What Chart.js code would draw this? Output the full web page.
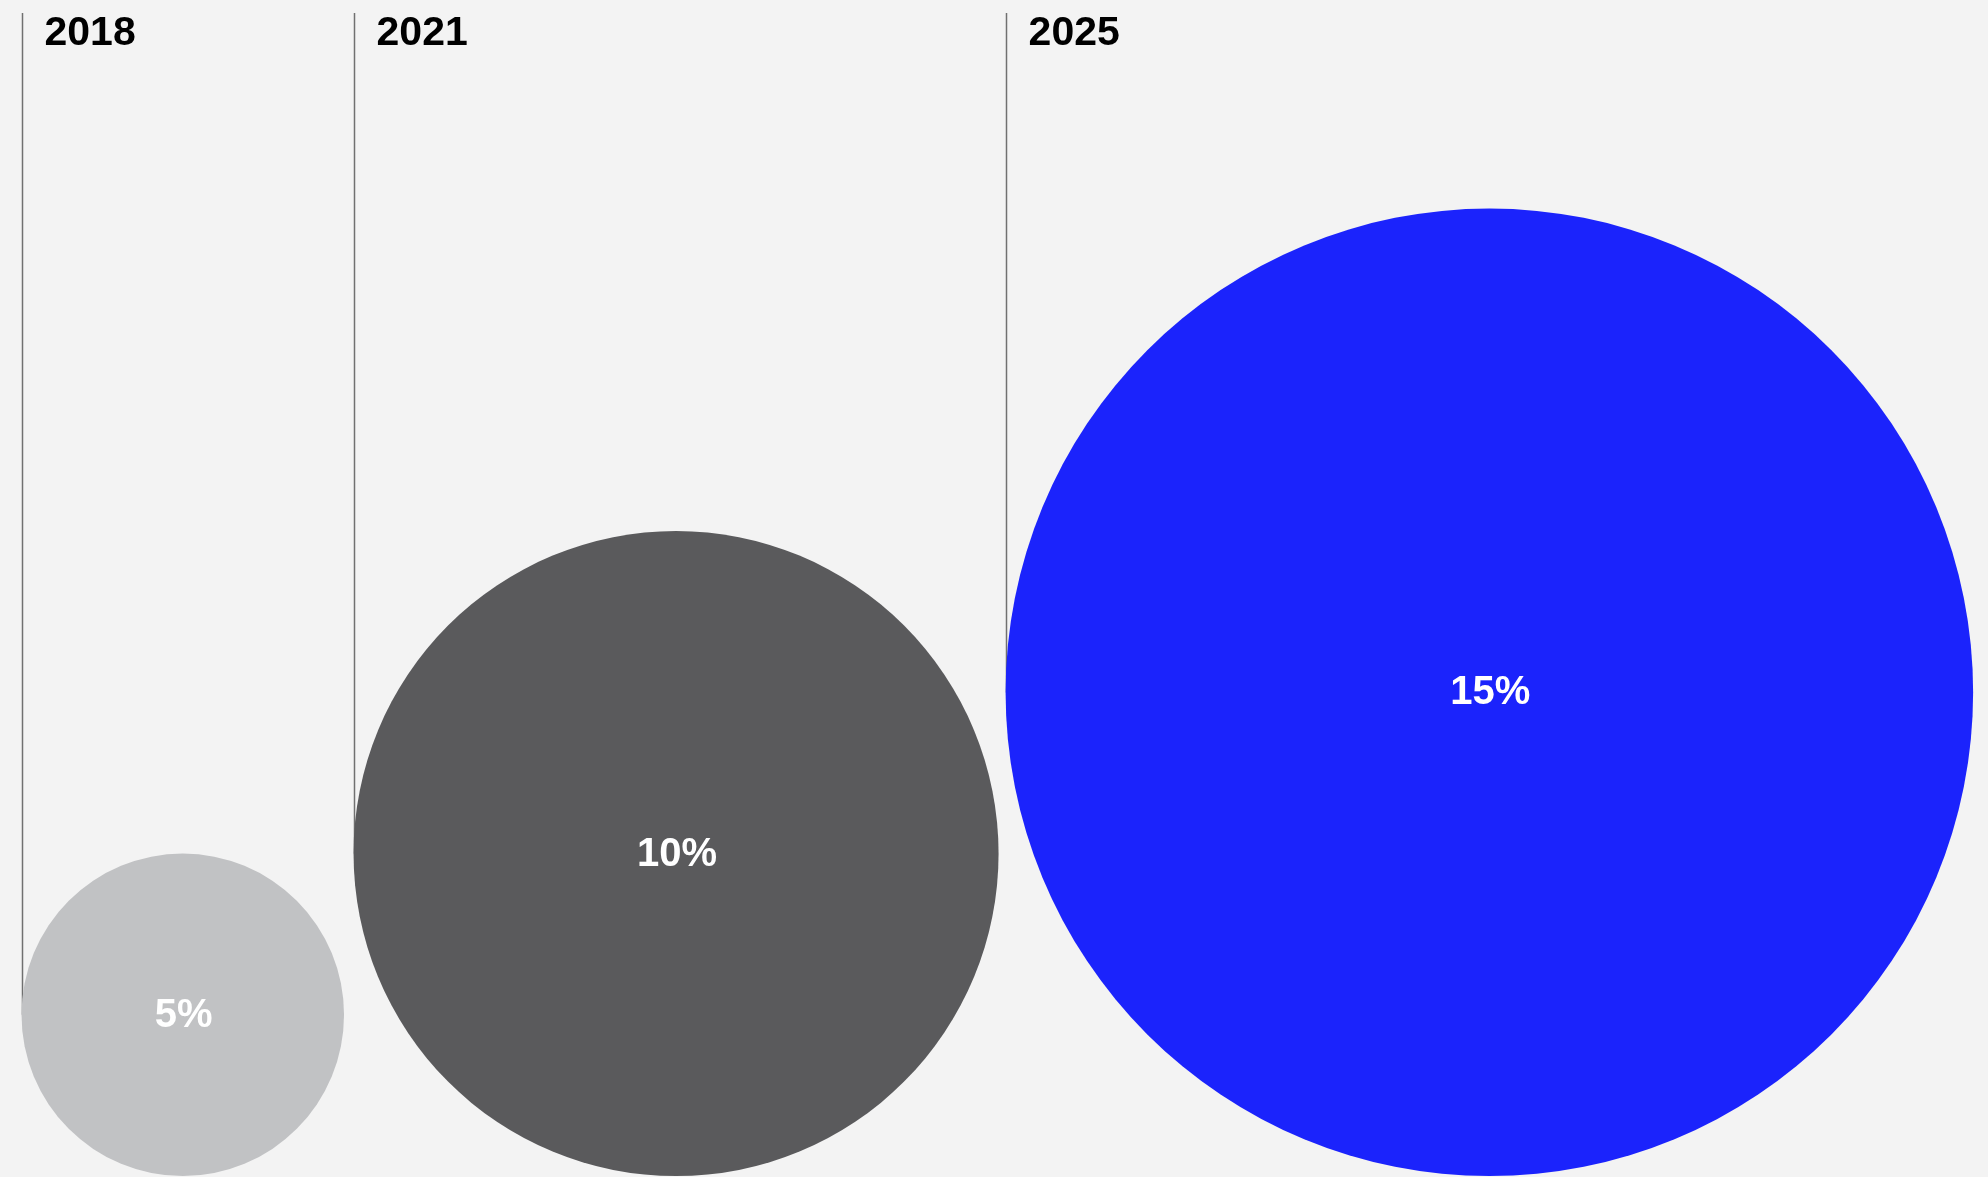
<!DOCTYPE html>
<html>
<head>
<meta charset="utf-8">
<script src="https://cdn.jsdelivr.net/npm/chart.js@4.4.1/dist/chart.umd.min.js"></script>
<style>
  html, body { margin: 0; padding: 0; background: #f3f3f3; }
  #wrap { width: 1988px; height: 1177px; }
</style>
</head>
<body>
<div id="wrap"><canvas id="c" width="1988" height="1177"></canvas></div>
<script>
// ============================================================
// Data
// ============================================================
const years = ["2018", "2021", "2025"];
const shares = [5, 10, 15];            // %, circle radius grows with the share
const shareLabels = ["5%", "10%", "15%"];
const colors = ["#c1c2c4", "#5a5a5c", "#1b23fc"];

// ============================================================
// Layout (scale units: 1 unit = radius of 1%)
// ============================================================
const CANVAS_W = 1988;
const X_MAX = 61.64;
const Y_MIN = -0.03;
const Y_MAX = 36.47;
const START = 0.667;          // left edge of first circle
const GAPS = [0.295, 0.217];  // space after each circle
const PX_PER_UNIT = CANVAS_W / X_MAX;

const points = [];
let cursor = START;
shares.forEach((s, i) => {
  points.push({ x: cursor + s, y: s, r: s * PX_PER_UNIT });
  cursor += 2 * s + (GAPS[i] || 0);
});

// ============================================================
// Plugins: guide lines + labels
// ============================================================
const guides = {
  id: "guides",
  beforeDatasetsDraw(chart) {
    const { ctx, scales: { x, y } } = chart;
    ctx.save();
    ctx.strokeStyle = "#707070";
    ctx.lineWidth = 1.5;
    points.forEach((p, i) => {
      const px = Math.round(x.getPixelForValue(p.x - shares[i])) + 0.5;
      ctx.beginPath();
      ctx.moveTo(px, 13);
      ctx.lineTo(px, y.getPixelForValue(p.y));
      ctx.stroke();
    });
    ctx.restore();
  },
  afterDatasetsDraw(chart) {
    const { ctx, scales: { x } } = chart;
    const meta = chart.getDatasetMeta(0);
    ctx.save();
    ctx.font = "bold 41px 'Liberation Sans', Arial, sans-serif";
    ctx.textBaseline = "alphabetic";
    ctx.textAlign = "left";
    ctx.fillStyle = "#000";
    points.forEach((p, i) => {
      const px = x.getPixelForValue(p.x - shares[i]);
      ctx.fillText(years[i], px + 23, 45);
    });
    ctx.font = "bold 40px 'Liberation Sans', Arial, sans-serif";
    ctx.fillStyle = "#fff";
    ctx.textAlign = "center";
    ctx.textBaseline = "middle";
    meta.data.forEach((el, i) => {
      ctx.fillText(shareLabels[i], el.x + 1, el.y + 1);
    });
    ctx.restore();
  }
};

// ============================================================
// Chart
// ============================================================
new Chart(document.getElementById("c"), {
  type: "bubble",
  data: {
    labels: years,
    datasets: [{
      data: points,
      backgroundColor: colors,
      borderWidth: 0,
      hoverRadius: 0,
      clip: false
    }]
  },
  options: {
    responsive: false,
    animation: false,
    events: [],
    layout: { padding: 0, autoPadding: false },
    plugins: { legend: { display: false }, tooltip: { enabled: false } },
    scales: {
      x: { type: "linear", min: 0, max: X_MAX, display: false },
      y: { type: "linear", min: Y_MIN, max: Y_MAX, display: false }
    }
  },
  plugins: [guides]
});
</script>
</body>
</html>
